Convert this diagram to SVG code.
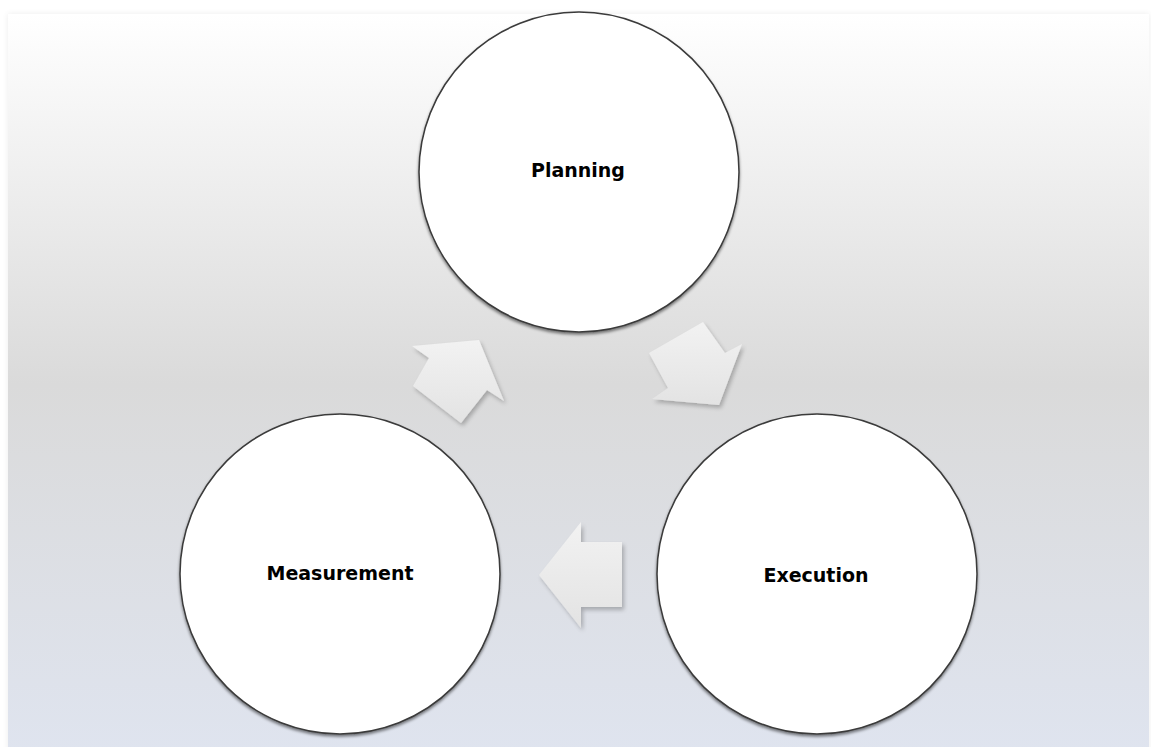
<svg xmlns="http://www.w3.org/2000/svg" width="1151" height="747" viewBox="0 0 1151 747">
  <defs>
    <linearGradient id="bg" x1="0" y1="0" x2="0" y2="1">
      <stop offset="0" stop-color="#ffffff"/>
      <stop offset="0.5" stop-color="#dadada"/>
      <stop offset="1" stop-color="#dfe4ef"/>
    </linearGradient>
    <linearGradient id="arrowFill" x1="0" y1="0" x2="0" y2="1">
      <stop offset="0" stop-color="#f2f2f2"/>
      <stop offset="1" stop-color="#e3e3e3"/>
    </linearGradient>
    <filter id="circShadow" x="-10%" y="-10%" width="120%" height="120%">
      <feGaussianBlur in="SourceAlpha" stdDeviation="1.5"/>
      <feOffset dx="0" dy="1.5" result="b"/>
      <feComponentTransfer><feFuncA type="linear" slope="0.5"/></feComponentTransfer>
      <feMerge><feMergeNode/><feMergeNode in="SourceGraphic"/></feMerge>
    </filter>
    <filter id="arrShadow" x="-20%" y="-20%" width="140%" height="140%">
      <feGaussianBlur in="SourceAlpha" stdDeviation="2"/>
      <feOffset dx="2" dy="3"/>
      <feComponentTransfer><feFuncA type="linear" slope="0.25"/></feComponentTransfer>
      <feMerge><feMergeNode/><feMergeNode in="SourceGraphic"/></feMerge>
    </filter>
    <filter id="panelShadow" x="-5%" y="-5%" width="110%" height="110%">
      <feGaussianBlur in="SourceAlpha" stdDeviation="3"/>
      <feComponentTransfer><feFuncA type="linear" slope="0.08"/></feComponentTransfer>
      <feMerge><feMergeNode/><feMergeNode in="SourceGraphic"/></feMerge>
    </filter>
  </defs>
  <style>
    .node circle { fill: #ffffff; stroke: #3a3a3a; stroke-width: 1.5; filter: url(#circShadow); }
    .node text { font-family: "DejaVu Sans", Verdana, sans-serif; font-weight: bold; font-size: 19px; fill: #000000; text-anchor: middle; }
    .arrow { fill: url(#arrowFill); stroke: none; filter: url(#arrShadow); }
  </style>
  <rect x="0" y="0" width="1151" height="747" fill="#ffffff"/>
  <rect x="8" y="14" width="1141" height="740" fill="url(#bg)" filter="url(#panelShadow)"/>

  <g id="connectors">
    <polygon class="arrow" points="479,340 412,346 429,358 413,386 461,423 487,390 504,401"/>
    <polygon class="arrow" points="703,322 649,353 668,388 652,399 719,405 742,344 725,353"/>
    <polygon class="arrow" points="539,575 581,522 581,542 622,542 622,607 581,607 581,628"/>
  </g>

  <g id="planning" class="node">
    <circle cx="579" cy="172" r="160"/>
    <text x="578" y="177">Planning</text>
  </g>
  <g id="execution" class="node">
    <circle cx="817" cy="574" r="160"/>
    <text x="816" y="582">Execution</text>
  </g>
  <g id="measurement" class="node">
    <circle cx="340" cy="574" r="160"/>
    <text x="340" y="580">Measurement</text>
  </g>
</svg>
